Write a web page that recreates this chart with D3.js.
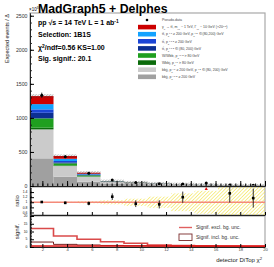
<!DOCTYPE html>
<html>
<head>
<meta charset="utf-8">
<script src="https://cdn.jsdelivr.net/npm/d3@7"></script>
<style>
body { margin: 0; background: #fff; }
text { font-family: "Liberation Sans", Arial, sans-serif; }
</style>
</head>
<body>
<div id="chart"></div>
<script>
// bins of detector DiTop chi2
const binEdges = [1, 2.9, 4.8, 6.7, 8.6, 10.5, 12.4, 14.3, 16.2, 18.1, 20];

// stacked backgrounds + signal, bottom to top
const bbjjHigh = [406, 136, 63, 38, 28, 18, 12, 8, 5, 4];
const bbjjMix  = [425, 157, 73, 22, 16, 12, 9, 6, 4, 3];
const wbbj     = [25, 8, 5, 2, 1, 1, 0.5, 0.5, 0.3, 0.2];
const wwbb     = [137, 32, 16, 4, 3, 2, 1, 1, 0.5, 0.5];
const ttMid    = [82, 14, 6, 1, 1, 0.5, 0.5, 0.3, 0.2, 0.2];
const ttHigh   = [50, 20, 9, 2, 1, 1, 0.5, 0.5, 0.3, 0.2];
const ttMix    = [77, 33, 8, 2, 1, 1, 0.5, 0.5, 0.3, 0.2];
const signal   = [118, 40, 15, 2, 2, 1.5, 1, 0.5, 0.5, 0.3];

const pseudoData = [1334, 430, 186, 89, 50, 34, 30, 45, 15, 10];
const pseudoErr  = [37, 21, 14, 9.5, 7, 6, 5.5, 6.7, 4, 3.2];
const mcRelErr   = [0.01, 0.02, 0.04, 0.08, 0.14, 0.22, 0.35, 0.45, 0.6, 0.6];

const sigExcl = [11.9, 7.1, 5.0, 3.4, 2.4, 1.3, 1.0, 0.8, 0.6, 0.5];
const sigIncl = [3.2, 1.7, 1.3, 1.0, 0.8, 0.6, 0.5, 0.4, 0.3, 0.3];

const xTicks = [2, 4, 6, 8, 10, 12, 14, 16, 18, 20];
const yTicks = [0, 500, 1000, 1500, 2000, 2500];
const ratioTicks = [0.6, 0.8, 1, 1.2, 1.4];
const signifTicks = [0, 5, 10, 15, 20];

const layerKeys = ["bbjjHigh", "bbjjMix", "wbbj", "wwbb", "ttMid", "ttHigh", "ttMix", "signal"];
const layerVals = [bbjjHigh, bbjjMix, wbbj, wwbb, ttMid, ttHigh, ttMix, signal];
const layerColors = ["#a0a0a0", "#cbcbcb", "#0b6b0b", "#1f9f1f", "#0c2f92", "#1b45d6", "#12a2ff", "#cc0000"];

// legend, top to bottom (signal first)
const legendLabels = [
  "Pseudo-data",
  "y_{0} → tt̄, m_{y0} ~ 1 TeV, Γ_{y0} ~ 10 GeV (×20^{0.5})",
  "tt̄, p_{T}^{t,1} ≥ 200 GeV, p_{T}^{t,2} ∈ (80,200) GeV",
  "tt̄, p_{T}^{t,1,2} ≥ 200 GeV",
  "tt̄, p_{T}^{t,1,2} ∈ (80, 200) GeV",
  "W/Wbb, p_{T}^{j,1,2} > 80 GeV",
  "Wbbj, p_{T}^{j,1} > 80 GeV",
  "bbjj, p_{T}^{j,1} ≥ 200 GeV, p_{T}^{j,2} ∈ (80, 200) GeV",
  "bbjj, p_{T}^{j,1,2} ≥ 200 GeV"
];
const legendColors = [null, "#cc0000", "#12a2ff", "#1b45d6", "#0c2f92", "#1f9f1f", "#0b6b0b", "#cbcbcb", "#a0a0a0"];

const w = 274;
const h = 267;
const padL = 30, padR = 265;
const mainTop = 13, mainBot = 186;
const ratioTop = 187, ratioBot = 215;
const sigTop = 216, sigBot = 247;

let svg = d3.select("#chart").append("svg")
  .attr("width", w)
  .attr("height", h);

// ROOT-like latex: _{..} sub, ^{..} super
function rich(sel, str) {
  let parts = str.split(/(_\{[^}]*\}|\^\{[^}]*\})/);
  parts.forEach(p => {
    if (p === "") return;
    let t = sel.append("tspan");
    if (p[0] === "_" && p[1] === "{") {
      t.attr("baseline-shift", "sub").attr("font-size", "70%").text(p.slice(2, -1));
    } else if (p[0] === "^" && p[1] === "{") {
      t.attr("baseline-shift", "super").attr("font-size", "70%").text(p.slice(2, -1));
    } else {
      t.text(p);
    }
  });
  return sel;
}

let defs = svg.append("defs");
defs.append("pattern").attr("id", "yhatch")
  .attr("patternUnits", "userSpaceOnUse").attr("width", 2.5).attr("height", 2.5)
  .attr("patternTransform", "rotate(45)")
  .append("line").attr("x1", 0).attr("y1", 0).attr("x2", 0).attr("y2", 2.5)
  .attr("stroke", "#f2e23a").attr("stroke-width", 1.1);
defs.append("pattern").attr("id", "khatch")
  .attr("patternUnits", "userSpaceOnUse").attr("width", 2).attr("height", 2)
  .attr("patternTransform", "rotate(45)")
  .append("line").attr("x1", 0).attr("y1", 0).attr("x2", 0).attr("y2", 2)
  .attr("stroke", "#333").attr("stroke-width", 0.7);

let xScale = d3.scaleLinear().domain([1, 20]).range([padL, padR]);
let yScale = d3.scaleLinear().domain([0, 2540]).range([mainBot, mainTop]);
let rScale = d3.scaleLinear().domain([0.5, 1.6]).range([ratioBot, ratioTop]);
let sScale = d3.scaleLinear().domain([0, 20]).range([sigBot, sigTop]);

let rows = binEdges.slice(0, -1).map((e, i) => {
  let r = { bin: i };
  layerKeys.forEach((k, j) => r[k] = layerVals[j][i]);
  return r;
});
let stacked = d3.stack().keys(layerKeys)(rows);
let totals = rows.map(r => d3.sum(layerKeys, k => r[k]));

//stack bars
stacked.forEach((layer, j) => {
  svg.append("g").selectAll("rect").data(layer).enter().append("rect")
    .attr("x", d => xScale(binEdges[d.data.bin]))
    .attr("width", d => xScale(binEdges[d.data.bin + 1]) - xScale(binEdges[d.data.bin]))
    .attr("y", d => yScale(d[1]))
    .attr("height", d => Math.max(0, yScale(d[0]) - yScale(d[1])))
    .attr("fill", layerColors[j]);
});

// mc uncertainty hatch on top of the stack
svg.append("g").selectAll("rect").data(totals).enter().append("rect")
  .attr("x", (d, i) => xScale(binEdges[i]))
  .attr("width", (d, i) => xScale(binEdges[i + 1]) - xScale(binEdges[i]))
  .attr("y", (d, i) => yScale(d * (1 + mcRelErr[i])) - 1)
  .attr("height", (d, i) => yScale(d * (1 - mcRelErr[i])) - yScale(d * (1 + mcRelErr[i])) + 2)
  .attr("fill", "url(#khatch)");

// pseudo data
let dataG = svg.append("g");
dataG.selectAll("line").data(pseudoData).enter().append("line")
  .attr("x1", (d, i) => xScale((binEdges[i] + binEdges[i + 1]) / 2))
  .attr("x2", (d, i) => xScale((binEdges[i] + binEdges[i + 1]) / 2))
  .attr("y1", (d, i) => yScale(d + pseudoErr[i]))
  .attr("y2", (d, i) => Math.min(mainBot, yScale(d - pseudoErr[i])))
  .attr("stroke", "#000").attr("stroke-width", 0.8);
dataG.selectAll("circle").data(pseudoData).enter().append("circle")
  .attr("cx", (d, i) => xScale((binEdges[i] + binEdges[i + 1]) / 2))
  .attr("cy", d => yScale(d))
  .attr("r", 1.5).attr("fill", "#000");

// frames
[[mainTop, mainBot], [ratioTop, ratioBot], [sigTop, sigBot]].forEach(p => {
  svg.append("rect").attr("x", padL).attr("y", p[0])
    .attr("width", padR - padL).attr("height", p[1] - p[0])
    .attr("fill", "none").attr("stroke", "#a8a8a8").attr("stroke-width", 1.2);
});

// left axis: ticks inside, labels outside
function leftAxis(scale, major, minor) {
  let g = svg.append("g").attr("transform", "translate(" + padL + ",0)");
  g.call(d3.axisLeft(scale).tickValues(minor).tickSizeInner(-1.8).tickSizeOuter(0).tickFormat(""));
  g.append("g").call(d3.axisLeft(scale).tickValues(major).tickSizeInner(-4).tickSizeOuter(0).tickFormat(""));
}
function leftLabels(scale, major, size, col) {
  svg.append("g").selectAll("text").data(major).enter().append("text")
    .attr("x", padL - 2.5)
    .attr("y", d => scale(d))
    .attr("dy", "0.35em")
    .attr("text-anchor", "end")
    .attr("fill", col)
    .style("font-size", size + "px")
    .text(d => String(d));
}

// main axes
let minorX = d3.range(1.2, 20.01, 0.4);
svg.append("g").attr("transform", "translate(0," + mainBot + ")")
  .call(d3.axisBottom(xScale).tickValues(xTicks).tickSizeInner(-5).tickSizeOuter(0).tickFormat(""));
svg.append("g").attr("transform", "translate(0," + mainBot + ")")
  .call(d3.axisBottom(xScale).tickValues(minorX).tickSizeInner(-2.5).tickSizeOuter(0).tickFormat(""));
leftAxis(yScale, yTicks, d3.range(0, 2540, 100));

svg.append("text").attr("x", padL - 1).attr("y", 11).style("font-size", "4.5px").call(rich, "×10^{3}");
svg.append("text").attr("text-anchor", "end")
  .attr("transform", "translate(9," + (mainTop + 1) + ")rotate(-90)")
  .style("font-size", "5.5px").attr("fill", "#222").text("Expected events / Δ");

// title and info
svg.append("text").attr("x", 38).attr("y", 13).style("font-size", "12.3px").attr("font-weight", "bold")
  .text("MadGraph5 + Delphes");
svg.append("text").attr("x", 38).attr("y", 25).style("font-size", "7px").attr("font-weight", "bold")
  .call(rich, "pp  √s = 14 TeV   L = 1 ab^{-1}");
svg.append("text").attr("x", 38).attr("y", 37).style("font-size", "7px").attr("font-weight", "bold")
  .text("Selection: 1B1S");
svg.append("text").attr("x", 38).attr("y", 49.5).style("font-size", "7px").attr("font-weight", "bold")
  .call(rich, "χ^{2}/ndf=0.56 KS=1.00");
svg.append("text").attr("x", 38).attr("y", 61).style("font-size", "7px").attr("font-weight", "bold")
  .text("Sig. signif.: 20.1");

// legend
let leg = svg.append("g");
legendLabels.forEach((lab, i) => {
  let yy = 20 + i * 7.1;
  if (legendColors[i]) {
    leg.append("rect").attr("x", 138).attr("y", yy - 2.3).attr("width", 18).attr("height", 4.6)
      .attr("fill", legendColors[i]);
  } else {
    leg.append("circle").attr("cx", 147).attr("cy", yy).attr("r", 1.3).attr("fill", "#000");
  }
  leg.append("text").attr("x", 162).attr("y", yy + 1.2).style("font-size", "3.5px").attr("fill", "#444")
    .call(rich, lab);
});

// ratio panel
let binMid = i => xScale((binEdges[i] + binEdges[i + 1]) / 2);
svg.append("g").selectAll("rect").data(mcRelErr).enter().append("rect")
  .attr("x", (d, i) => xScale(binEdges[i]))
  .attr("width", (d, i) => xScale(binEdges[i + 1]) - xScale(binEdges[i]))
  .attr("y", d => Math.max(ratioTop, rScale(1 + d)))
  .attr("height", d => Math.min(ratioBot, rScale(1 - d)) - Math.max(ratioTop, rScale(1 + d)))
  .attr("fill", "url(#yhatch)");
svg.append("line").attr("x1", padL).attr("x2", padR)
  .attr("y1", rScale(1)).attr("y2", rScale(1))
  .attr("stroke", "#f48a7a").attr("stroke-width", 1.4);

let ratio = pseudoData.map((d, i) => d / totals[i]);
let ratioErr = pseudoErr.map((d, i) => d / totals[i]);
let rg = svg.append("g");
ratio.forEach((r, i) => {
  if (r > 1.6) {
    let cx = binMid(i);
    rg.append("path").attr("d", "M" + (cx - 1.6) + "," + (ratioTop + 3) + "L" + (cx + 1.6) + "," + (ratioTop + 3) + "L" + cx + "," + ratioTop + "Z")
      .attr("fill", "#e01010");
    return;
  }
  rg.append("line").attr("x1", binMid(i)).attr("x2", binMid(i))
    .attr("y1", Math.max(ratioTop, rScale(r + ratioErr[i])))
    .attr("y2", Math.min(ratioBot, rScale(r - ratioErr[i])))
    .attr("stroke", "#000").attr("stroke-width", 0.8);
  rg.append("rect").attr("x", binMid(i) - 1.3).attr("y", rScale(r) - 1.3)
    .attr("width", 2.6).attr("height", 2.6).attr("fill", "#000");
});

svg.append("g").attr("transform", "translate(0," + ratioBot + ")")
  .call(d3.axisBottom(xScale).tickValues(xTicks).tickSizeInner(-3).tickSizeOuter(0).tickFormat(""));
leftAxis(rScale, ratioTicks, d3.range(0.55, 1.6, 0.05));
leftLabels(rScale, ratioTicks, 3.4, "#111");
svg.append("text").attr("text-anchor", "middle")
  .attr("transform", "translate(19," + ((ratioTop + ratioBot) / 2) + ")rotate(-90)")
  .style("font-size", "6px").attr("fill", "#222").text("ratio");

// significance panel
let stepLine = d3.line().curve(d3.curveStepAfter).x(d => xScale(d[0])).y(d => sScale(d[1]));
let exclPts = binEdges.map((e, i) => [e, sigExcl[Math.min(i, sigExcl.length - 1)]]);
let inclPts = binEdges.map((e, i) => [e, sigIncl[Math.min(i, sigIncl.length - 1)]]);
svg.append("path").attr("d", stepLine(inclPts)).attr("fill", "none")
  .attr("stroke", "#7a1f1f").attr("stroke-width", 1);
svg.append("path").attr("d", stepLine(exclPts)).attr("fill", "none")
  .attr("stroke", "#d42a2a").attr("stroke-width", 1.6).attr("stroke-opacity", 0.85);
svg.append("line").attr("x1", padL).attr("x2", padR).attr("y1", sigBot - 1).attr("y2", sigBot - 1)
  .attr("stroke", "#e01818").attr("stroke-width", 1.6);

svg.append("g").attr("transform", "translate(0," + sigBot + ")")
  .call(d3.axisBottom(xScale).tickValues(xTicks).tickSizeInner(-3).tickSizeOuter(0).tickPadding(1.5).tickFormat(d3.format("d")))
  .call(g => g.selectAll("text").style("font-size", "4.2px").attr("fill", "#444"));
leftAxis(sScale, signifTicks, d3.range(1, 20, 1));
leftLabels(sScale, signifTicks, 3.4, "#111");
svg.append("text").attr("text-anchor", "middle")
  .attr("transform", "translate(19," + ((sigTop + sigBot) / 2) + ")rotate(-90)")
  .style("font-size", "6px").attr("fill", "#222").text("signif.");

// signif legend
svg.append("line").attr("x1", 179).attr("x2", 192).attr("y1", 227.5).attr("y2", 227.5)
  .attr("stroke", "#e06060").attr("stroke-width", 1.4);
svg.append("text").attr("x", 196).attr("y", 229.3).style("font-size", "5px").attr("fill", "#333")
  .text("Signif. excl. bg. unc.");
svg.append("rect").attr("x", 179).attr("y", 234).attr("width", 13).attr("height", 6.5)
  .attr("fill", "none").attr("stroke", "#7a2a2a").attr("stroke-width", 0.9);
svg.append("text").attr("x", 196).attr("y", 239).style("font-size", "5px").attr("fill", "#333")
  .text("Signif. incl. bg. unc.");

svg.append("text").attr("x", 262).attr("y", 262).attr("text-anchor", "end")
  .style("font-size", "6px").attr("fill", "#222").call(rich, "detector DiTop χ^{2}");

svg.selectAll(".domain").attr("stroke", "#222");

// main y labels
leftLabels(yScale, yTicks, 5.2, "#333");
</script>
</body>
</html>
